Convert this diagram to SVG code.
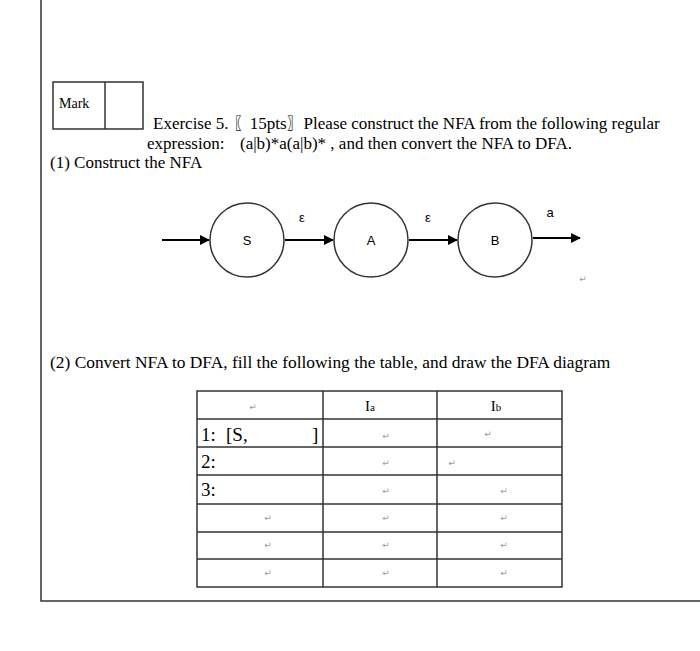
<svg xmlns="http://www.w3.org/2000/svg" width="700" height="651" viewBox="0 0 700 651">
<style>
.t{font-family:"Liberation Serif",serif;font-size:17px;fill:#000}
.s{font-family:"Liberation Sans",sans-serif;font-size:13px;fill:#000;text-anchor:middle}
.r{font-family:"DejaVu Sans",sans-serif;font-size:9px;fill:#999;text-anchor:middle}
.l{stroke:#333;stroke-width:1.5;fill:none}
.c{stroke:#333;stroke-width:1.5;fill:#fff}
.e{stroke:#000;stroke-width:2;fill:none;marker-end:url(#ah)}
.big{font-size:19px}
</style>
<defs><marker id="ah" markerWidth="10" markerHeight="10" refX="9" refY="5" orient="auto" markerUnits="userSpaceOnUse"><path d="M0,0 L10,5 L0,10 z" fill="#000"/></marker></defs>
<rect width="700" height="651" fill="#fff"/>
<path class="l" d="M41,0 V601 H700"/>
<g id="markbox"><rect class="l" x="53" y="82" width="90" height="47"/><line class="l" x1="105" y1="82" x2="105" y2="129"/><text class="t" x="59" y="108" style="font-size:14px">Mark</text></g>
<text class="t" x="153" y="129">Exercise 5. 〖15pts〗Please construct the NFA from the following regular</text>
<text class="t" x="147" y="149">expression:</text>
<text class="t" x="240" y="149">(a|b)*a(a|b)* , and then convert the NFA to DFA.</text>
<text class="t" x="50" y="168">(1) Construct the NFA</text>
<g id="connectors">
<line class="e" x1="162" y1="240" x2="209" y2="240"/>
<line class="e" x1="285" y1="240" x2="333" y2="240"/>
<line class="e" x1="409" y1="240" x2="457" y2="240"/>
<line class="e" x1="533" y1="238" x2="580" y2="238"/>
<text class="s" x="302" y="222">ε</text>
<text class="s" x="428" y="222">ε</text>
<text class="s" x="550" y="217">a</text>
</g>
<g id="S"><circle class="c" cx="247" cy="240" r="37"/><text class="s" x="247" y="245">S</text></g>
<g id="A"><circle class="c" cx="371" cy="240" r="37"/><text class="s" x="371" y="245">A</text></g>
<g id="B"><circle class="c" cx="495" cy="240" r="37"/><text class="s" x="495" y="245">B</text></g>
<text class="r" x="583" y="282">↵</text>
<text class="t" x="50" y="368" style="font-size:17.4px">(2) Convert NFA to DFA, fill the following the table, and draw the DFA diagram</text>
<g id="table">
<rect class="l" x="197" y="391" width="365" height="196"/>
<path class="l" d="M323,391V587 M437,391V587 M197,419H562 M197,447H562 M197,475H562 M197,504H562 M197,532H562 M197,559H562"/>
<text class="t" x="370" y="411" style="font-size:15px" text-anchor="middle">I<tspan style="font-size:11px">a</tspan></text>
<text class="t" x="496" y="411" style="font-size:15px" text-anchor="middle">I<tspan style="font-size:11px">b</tspan></text>
<text class="t big" x="201" y="441">1:</text><text class="t big" x="226" y="441">[S,</text><text class="t big" x="312" y="441">]</text>
<text class="t big" x="201" y="468">2:</text>
<text class="t big" x="201" y="496">3:</text>
<text class="r" x="253" y="410">↵</text>
<text class="r" x="386" y="439">↵</text><text class="r" x="488" y="437">↵</text>
<text class="r" x="386" y="466">↵</text><text class="r" x="452" y="466">↵</text>
<text class="r" x="386" y="494">↵</text><text class="r" x="504" y="494">↵</text>
<text class="r" x="268" y="521">↵</text><text class="r" x="386" y="521">↵</text><text class="r" x="504" y="521">↵</text>
<text class="r" x="268" y="548">↵</text><text class="r" x="386" y="548">↵</text><text class="r" x="504" y="548">↵</text>
<text class="r" x="268" y="576">↵</text><text class="r" x="386" y="576">↵</text><text class="r" x="504" y="576">↵</text>
</g>
</svg>
